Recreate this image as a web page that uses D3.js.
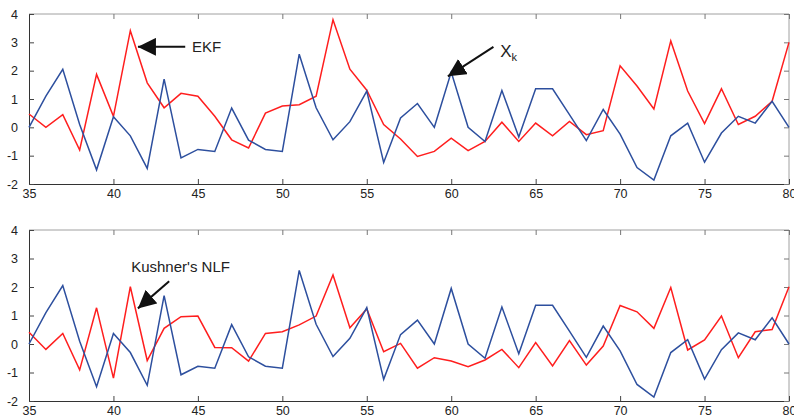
<!DOCTYPE html>
<html>
<head>
<meta charset="utf-8">
<script src="https://cdn.jsdelivr.net/npm/d3@7"></script>
<style>
  body { margin: 0; background: #fff; }
  text { font-family: "Liberation Sans", Arial, sans-serif; }
</style>
</head>
<body>
<script>
var width = 794,
    height = 419;

var steps = d3.range(35, 81);
var xTicks = [35, 40, 45, 50, 55, 60, 65, 70, 75, 80];
var yTicks = [-2, -1, 0, 1, 2, 3, 4];

var xk = [0, 1.1, 2.05, 0.1, -1.5, 0.37, -0.3, -1.45, 1.7, -1.08, -0.78, -0.85, 0.68, -0.45, -0.78,
  -0.85, 2.58, 0.69, -0.44, 0.2, 1.28, -1.24, 0.33, 0.84, 0, 1.95, 0, -0.5, 1.3, -0.34,
  1.36, 1.36, 0.45, -0.47, 0.63, -0.24, -1.42, -1.86, -0.3, 0.15, -1.23, -0.2, 0.39, 0.15, 0.92, 0];

var ekf = [0.47, 0, 0.45, -0.8, 1.87, 0.39, 3.41, 1.57, 0.69, 1.2, 1.1, 0.39, -0.44, -0.73, 0.5,
  0.75, 0.8, 1.1, 3.8, 2.05, 1.31, 0.1, -0.41, -1.03, -0.85, -0.38, -0.82, -0.5, 0.18, -0.5,
  0.15, -0.3, 0.21, -0.26, -0.12, 2.17, 1.46, 0.65, 3.05, 1.28, 0.13, 1.36, 0.1, 0.39, 0.92, 3.0];

var nlf = [0.41, -0.19, 0.37, -0.91, 1.27, -1.2, 2.01, -0.58, 0.55, 0.96, 0.98, -0.12, -0.13, -0.6, 0.37,
  0.43, 0.67, 0.98, 2.42, 0.57, 1.23, -0.27, 0.02, -0.85, -0.48, -0.6, -0.8, -0.56, -0.19, -0.83,
  0.05, -0.77, 0.12, -0.74, -0.07, 1.35, 1.13, 0.55, 1.98, -0.21, 0.14, 0.98, -0.48, 0.43, 0.51, 2.01];

var svg = d3.select("body").append("svg")
    .attr("width", width)
    .attr("height", height);

var defs = svg.append("defs");
defs.append("marker")
    .attr("id", "head")
    .attr("viewBox", "0 0 10 10")
    .attr("refX", 10)
    .attr("refY", 5)
    .attr("markerUnits", "userSpaceOnUse")
    .attr("markerWidth", 18)
    .attr("markerHeight", 18)
    .attr("orient", "auto")
  .append("path")
    .attr("d", "M0,0L10,5L0,10Z")
    .attr("fill", "#111");

var x = d3.scaleLinear().domain([35, 80]).range([29, 789]);
var fmt = function(d) { return String(d); };

function panel(top, bottom, est, note) {
  var y = d3.scaleLinear().domain([-2, 4]).range([bottom, top]);
  var g = svg.append("g");

  // box: light top/right, dark left/bottom
  g.append("line").attr("x1", x(35)).attr("x2", x(80)).attr("y1", top).attr("y2", top)
      .attr("stroke", "#a0a0a0");
  g.append("line").attr("x1", x(80)).attr("x2", x(80)).attr("y1", top).attr("y2", bottom)
      .attr("stroke", "#a0a0a0");

  var ax = g.append("g").attr("transform", "translate(0," + bottom + ")")
      .call(d3.axisBottom(x).tickValues(xTicks).tickFormat(fmt).tickSizeInner(-5).tickSizeOuter(0).tickPadding(5));
  var axTop = g.append("g").attr("transform", "translate(0," + top + ")")
      .call(d3.axisTop(x).tickValues(xTicks).tickSizeInner(-5).tickSizeOuter(0).tickFormat(""));
  var ay = g.append("g").attr("transform", "translate(" + x(35) + ",0)")
      .call(d3.axisLeft(y).tickValues(yTicks).tickFormat(fmt).tickSizeInner(-5).tickSizeOuter(0).tickPadding(11));
  var ayR = g.append("g").attr("transform", "translate(" + x(80) + ",0)")
      .call(d3.axisRight(y).tickValues(yTicks).tickSizeInner(-5).tickSizeOuter(0).tickFormat(""));

  [axTop, ayR].forEach(function(a) {
    a.select(".domain").remove();
    a.selectAll("line").attr("stroke", "#777");
  });
  [ax, ay].forEach(function(a) {
    a.select(".domain").attr("stroke", "#333");
    a.selectAll("line").attr("stroke", "#444");
    a.selectAll("text").attr("fill", "#222").style("font-size", "12.5px");
  });

  var line = d3.line()
      .x(function(d, i) { return x(steps[i]); })
      .y(function(d) { return y(d); });

  g.append("path").datum(est)
      .attr("d", line).attr("fill", "none")
      .attr("stroke", "#ff1e1e").attr("stroke-width", 1.5);
  g.append("path").datum(xk)
      .attr("d", line).attr("fill", "none")
      .attr("stroke", "#2d4f9e").attr("stroke-width", 1.5);

  note(g, y);
}

function arrow(g, x1, y1, x2, y2) {
  g.append("line")
      .attr("x1", x1).attr("y1", y1).attr("x2", x2).attr("y2", y2)
      .attr("stroke", "#111").attr("stroke-width", 2)
      .attr("marker-end", "url(#head)");
}

panel(14, 184, ekf, function(g, y) {
  arrow(g, x(44.25), y(2.84), x(41.45), y(2.84));
  g.append("text").attr("x", x(44.65)).attr("y", y(2.84)).attr("dy", "0.36em")
      .style("font-size", "15px").attr("fill", "#222").text("EKF");
  arrow(g, x(62.5), y(2.84), x(59.8), y(1.8));
  var t = g.append("text").attr("x", x(62.9)).attr("y", y(2.5))
      .style("font-size", "17px").attr("fill", "#222").text("X");
  t.append("tspan").attr("dy", 4).style("font-size", "11px").text("k");
});

panel(230, 401, nlf, function(g, y) {
  g.append("text").attr("x", x(41.05)).attr("y", y(2.7)).attr("dy", "0.36em")
      .style("font-size", "15px").attr("fill", "#222").text("Kushner's NLF");
  arrow(g, x(43.3), y(2.2), x(41.45), y(1.25));
});
</script>
</body>
</html>
